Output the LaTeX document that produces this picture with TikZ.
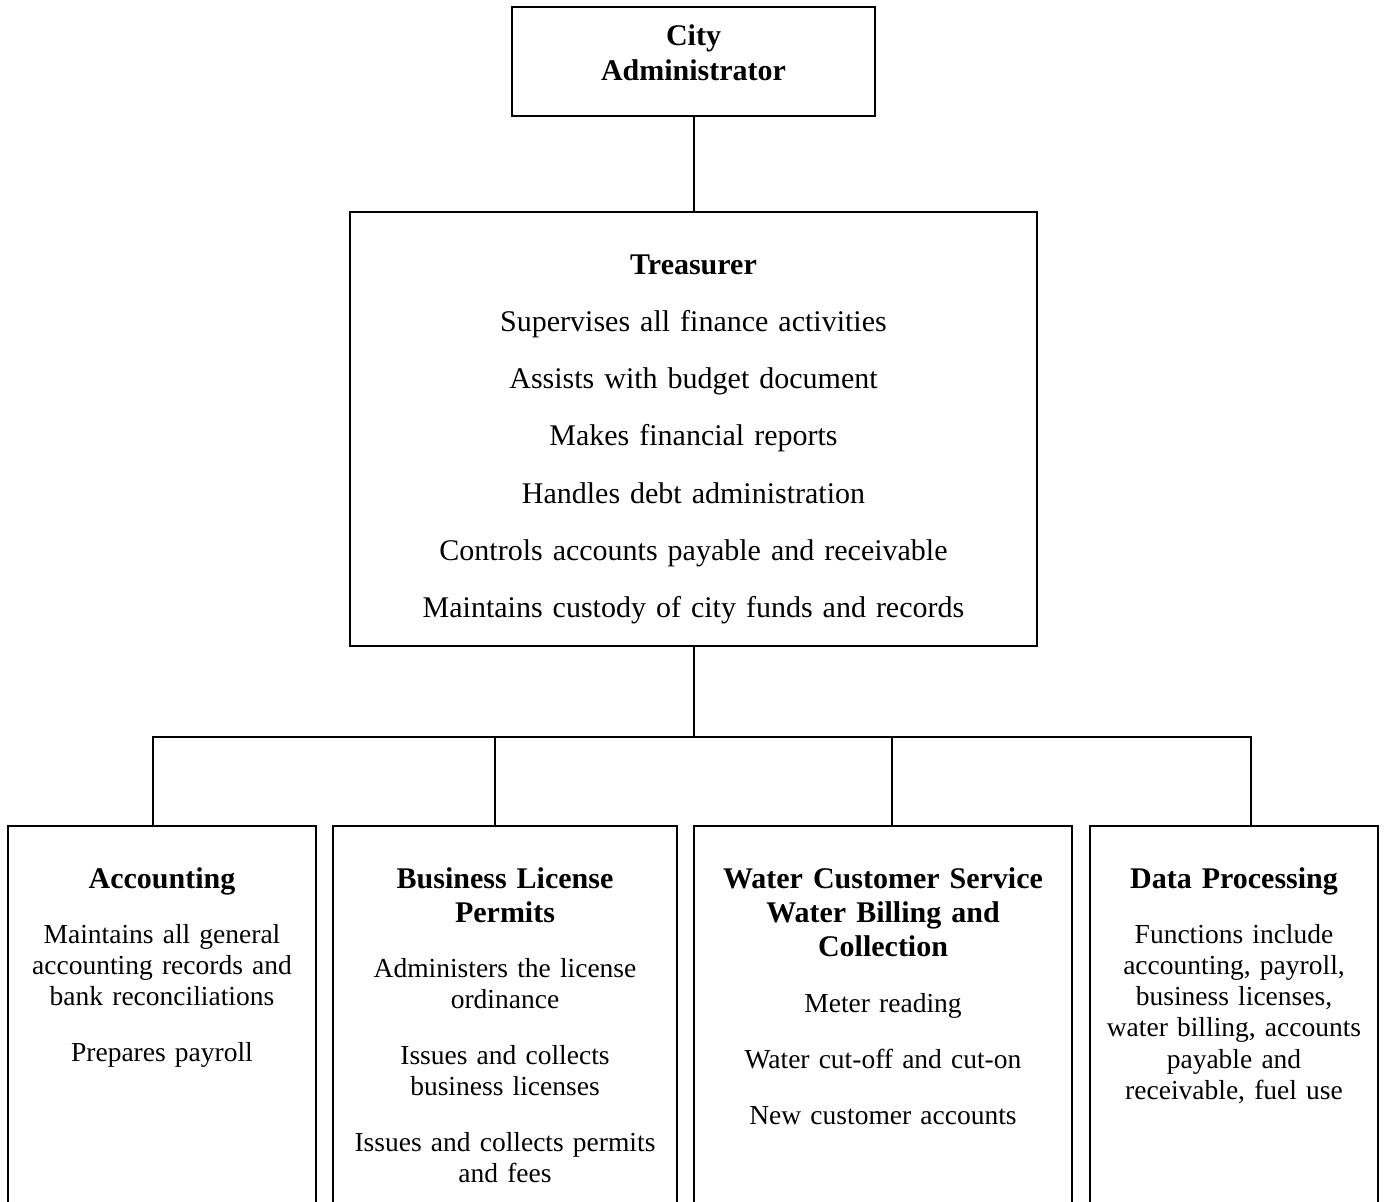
\documentclass[tikz,border=0pt]{standalone}
\usepackage{fontspec}
\setmainfont{Liberation Serif}

\begin{document}
\begin{tikzpicture}[x=0.4pt,y=-0.4pt,line width=0.8pt,
		box/.style={draw,inner sep=0pt},
		head/.style={anchor=base,align=center,font=\bfseries\fontsize{12}{13.6}\selectfont},
		body/.style={anchor=base,align=center,font=\fontsize{11}{12.5}\selectfont}]
		\useasboundingbox (0,0) rectangle (1385,1201);
		\clip (0,0) rectangle (1385,1201);
		\draw[color=black]
		node[box,minimum width=363*0.4pt,minimum height=109*0.4pt] (admin) at (693.5,61.5){}
		node[head,text width=340*0.4pt,font=\bfseries\fontsize{12}{14}\selectfont] (admin_txt) at (693.5,45){City\\Administrator}
		node[box,minimum width=687*0.4pt,minimum height=434*0.4pt] (treasurer) at (693.5,429){}
		node[anchor=base,align=center,text width=660*0.4pt,font=\fontsize{12}{22.9}\selectfont] (treasurer_txt) at (693.5,274){\textbf{Treasurer}\\Supervises all finance activities\\Assists with budget document\\Makes financial reports\\Handles debt administration\\Controls accounts payable and receivable\\Maintains custody of city funds and records}
		node[box,minimum width=308*0.4pt,minimum height=414*0.4pt] (accounting) at (162,1033){}
		node[box,minimum width=344*0.4pt,minimum height=414*0.4pt] (business) at (505,1033){}
		node[box,minimum width=378*0.4pt,minimum height=414*0.4pt] (water) at (883,1033){}
		node[box,minimum width=288*0.4pt,minimum height=414*0.4pt] (data) at (1234,1033){};
		% unit headings
		\node[head,text width=290*0.4pt] (accounting_head) at (162,888) {Accounting};
		\node[head,text width=330*0.4pt] (business_head) at (505,888) {Business License\\Permits};
		\node[head,text width=360*0.4pt] (water_head) at (883,888) {Water Customer Service\\Water Billing and\\Collection};
		\node[head,text width=275*0.4pt] (data_head) at (1234,888) {Data Processing};
		% unit duties
		\node[body,text width=290*0.4pt] (accounting_txt) at (162,943) {Maintains all general\\accounting records and\\bank reconciliations\\[9.9pt]Prepares payroll};
		\node[body,text width=330*0.4pt] (business_txt) at (505,977) {Administers the license\\ordinance\\[9.9pt]Issues and collects\\business licenses\\[9.9pt]Issues and collects permits\\and fees};
		\node[body,text width=360*0.4pt] (water_txt) at (883,1012) {Meter reading\\[9.9pt]Water cut-off and cut-on\\[9.9pt]New customer accounts};
		\node[body,text width=275*0.4pt] (data_txt) at (1234,943) {Functions include\\accounting, payroll,\\business licenses,\\water billing, accounts\\payable and\\receivable, fuel use};
		% connectors
		\coordinate (bus) at (693.5,737);
		\coordinate (drop_acc) at (153,826);
		\coordinate (drop_biz) at (495,826);
		\coordinate (drop_wat) at (892,826);
		\coordinate (drop_dat) at (1251,826);
		\draw (admin) -- (treasurer);
		\draw (treasurer) -- (bus);
		\draw (drop_acc) |- (bus) -| (drop_dat);
			\draw (drop_biz) -- (drop_biz |- bus);
			\draw (drop_wat) -- (drop_wat |- bus);
\end{tikzpicture}
\end{document}
